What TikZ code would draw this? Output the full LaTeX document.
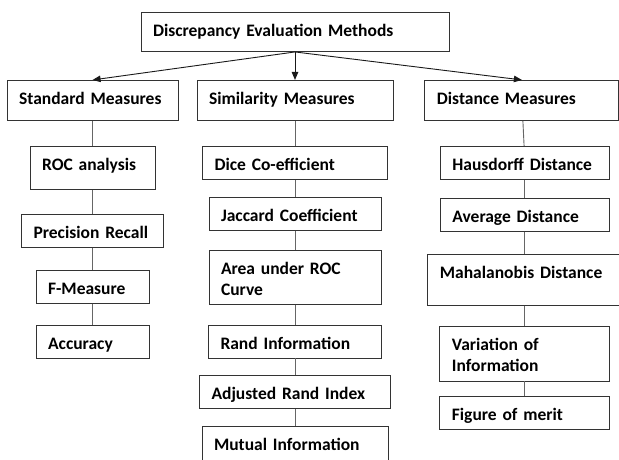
\documentclass[tikz,border=0pt]{standalone}
\usepackage{fontspec}
\setmainfont{Carlito}
\usetikzlibrary{positioning,arrows.meta}

\begin{document}
\begin{tikzpicture}[x=1pt, y=-1pt,
    every node/.style = {draw=black!80, line width=0.9pt, shape=rectangle,
      align=left, inner xsep=12pt, inner ysep=9pt,
      text height=15pt, text depth=0pt, text=black,
      font=\bfseries\fontsize{17.5}{21}\selectfont},
    every edge/.style = {draw, black!60, line width=0.9pt},
    head/.style = {text height=15.3pt, text depth=6.7pt},
    arrow/.style = {-{Triangle[length=8pt,width=6.5pt]}, draw=black!90}]
  \useasboundingbox (0,0) rectangle (619,460);

  \node (top) [text width=284pt, text height=15.5pt, text depth=5.5pt] at (295,32) {Discrepancy Evaluation Methods};
  \node (sim)  [head, text width=172pt, below = 28pt of top] {Similarity Measures};
  \node (std)  [head, text width=147pt, left  = 18pt of sim] {Standard Measures};
  \node (dist) [head, text width=170pt, right = 31pt of sim] {Distance Measures};

  % standard measures
  \node (roc)   [text width=101pt, text depth=10pt, below = 25pt of std] {ROC analysis};
  \node (prec)  [text width=118pt, below = 24pt of roc]   {Precision Recall};
  \node (fmeas) [text width=89pt,  below = 22pt of prec]  {F-Measure};
  \node (acc)   [text width=89pt,  below = 21pt of fmeas] {Accuracy};

  % similarity measures
  \node (dice) [text width=161pt, below = 25pt of sim]  {Dice Co-efficient};
  \node (jacc) [text width=148pt, below = 17pt of dice] {Jaccard Coefficient};
  \node (auc)  [text width=148pt, text depth=21pt, below = 19pt of jacc] {Area under ROC\\Curve};
  \node (rand) [text width=149pt, below = 20pt of auc]  {Rand Information};
  \node (ari)  [text width=167pt, below = 17pt of rand] {Adjusted Rand Index};
  \node (mi)   [text width=162pt, text depth=30pt, below = 17pt of ari] {Mutual Information};

  % distance measures
  \node (haus)  [text width=145pt, below = 25pt of dist, xshift=3pt] {Hausdorff Distance};
  \node (avg)   [text width=145pt, below = 18pt of haus]  {Average Distance};
  \node (mahal) [text width=170pt, text depth=18pt, below = 22pt of avg] {Mahalanobis Distance};
  \node (voi)   [text width=146pt, text depth=22pt, below = 20pt of mahal] {Variation of\\Information};
  \node (fom)   [text width=146pt, below = 15pt of voi] {Figure of merit};

  \draw (top.south) edge[arrow] (std.north)
                    edge[arrow] (sim.north)
                    edge[arrow] (dist.north);

  \draw (std) edge (roc);
  \draw (roc) edge (prec);
  \draw (prec) edge (fmeas);
  \draw (fmeas) edge (acc);

  \draw (sim) edge (dice);
  \draw (dice) edge (jacc);
  \draw (jacc) edge (auc);
  \draw (auc) edge (rand);
  \draw (rand) edge (ari);
  \draw (ari) edge (mi);

  \draw (dist) edge (haus);
  \draw (haus) edge (avg);
  \draw (avg) edge (mahal);
  \draw (mahal) edge (voi);
  \draw (voi) edge (fom);
\end{tikzpicture}
\end{document}
